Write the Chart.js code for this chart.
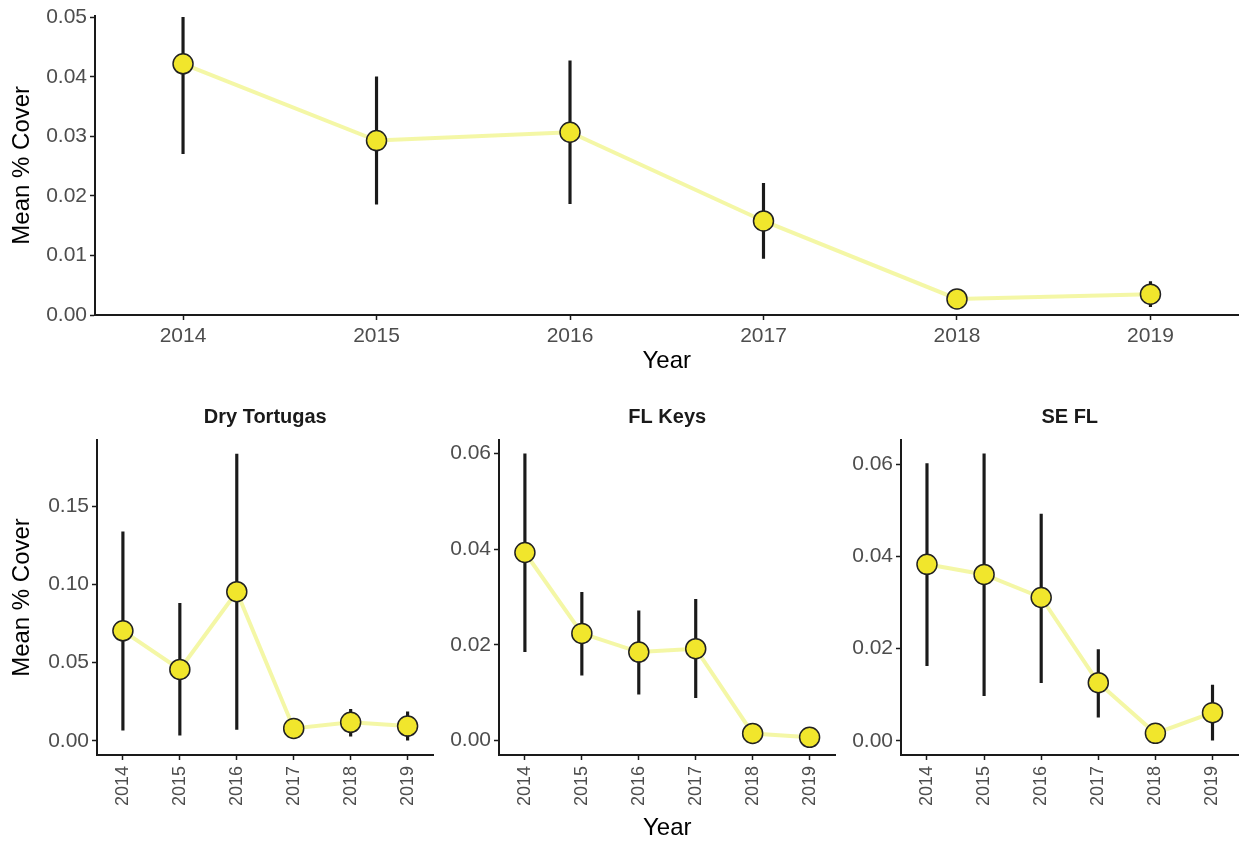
<!DOCTYPE html>
<html>
<head>
<meta charset="utf-8">
<script src="https://cdn.jsdelivr.net/npm/chart.js@4/dist/chart.umd.min.js"></script>
<style>
    html, body { margin: 0; padding: 0; background: #ffffff; overflow: hidden; }
    body { width: 1239px; height: 843px; position: relative; }
    .box { position: absolute; }
</style>
</head>
<body>

<div class="box" style="left:0;top:0;width:1250px;height:380px;"><canvas id="allChart"></canvas></div>
<div class="box" style="left:0;top:395px;width:445px;height:448px;"><canvas id="dtChart"></canvas></div>
<div class="box" style="left:440px;top:395px;width:407px;height:448px;"><canvas id="keysChart"></canvas></div>
<div class="box" style="left:840px;top:395px;width:410px;height:448px;"><canvas id="seChart"></canvas></div>

<script>

/* ==========================
   DATA
========================== */

const years = [2014, 2015, 2016, 2017, 2018, 2019];

const allMean = [0.0422, 0.0293, 0.0307, 0.0158, 0.0027, 0.0035];
const allLow  = [0.0271, 0.0186, 0.0187, 0.0095, 0.0012, 0.0014];
const allHigh = [0.0500, 0.0400, 0.0427, 0.0221, 0.0042, 0.0056];
const allTicks = [0.00, 0.01, 0.02, 0.03, 0.04, 0.05];

const dtMean = [0.0703, 0.0456, 0.0953, 0.0079, 0.0118, 0.0094];
const dtLow  = [0.0068, 0.0036, 0.0073, 0.0040, 0.0030, 0.0000];
const dtHigh = [0.1336, 0.0878, 0.1833, 0.0120, 0.0201, 0.0185];
const dtTicks = [0.00, 0.05, 0.10, 0.15];

const keysMean = [0.0393, 0.0224, 0.0185, 0.0192, 0.0015, 0.0007];
const keysLow  = [0.0186, 0.0137, 0.0097, 0.0090, 0.0005, 0.0002];
const keysHigh = [0.0599, 0.0310, 0.0271, 0.0295, 0.0025, 0.0012];
const keysTicks = [0.00, 0.02, 0.04, 0.06];

const seMean = [0.0383, 0.0361, 0.0311, 0.0126, 0.0016, 0.0061];
const seLow  = [0.0163, 0.0098, 0.0126, 0.0051, 0.0004, 0.0000];
const seHigh = [0.0602, 0.0623, 0.0492, 0.0198, 0.0030, 0.0121];
const seTicks = [0.00, 0.02, 0.04, 0.06];

/* ==========================
   SHARED STYLE
========================== */

Chart.defaults.font.family = "'Liberation Sans', Arial, sans-serif";
Chart.defaults.color = "#4d4d4d";

const LINE_COLOR = "rgba(242, 246, 150, 0.85)";
const POINT_COLOR = "#f1e62c";
const AXIS_COLOR = "#1a1a1a";

function buildChart(id, opts) {

    const canvas =
        document.getElementById(id);

    const lineData =
        years.map((y, i) => ({ x: y, y: opts.mean[i] }));

    // error bars as thin floating bars
    const barData =
        years.map((y, i) => ({ x: y, y: [opts.low[i], opts.high[i]] }));

    return new Chart(canvas, {

        data: {

            datasets: [

                {
                    type: "bar",
                    data: barData,
                    backgroundColor: AXIS_COLOR,
                    borderWidth: 0,
                    barThickness: 2.5,
                    order: 2
                },

                {
                    type: "line",
                    data: lineData,
                    borderColor: LINE_COLOR,
                    borderWidth: 4,
                    tension: 0,
                    pointRadius: 10,
                    pointBackgroundColor: POINT_COLOR,
                    pointBorderColor: "#222222",
                    pointBorderWidth: 1.5,
                    order: 1
                }

            ]
        },

        options: {

            responsive: true,
            maintainAspectRatio: false,
            animation: false,

            layout: {
                padding: opts.padding
            },

            plugins: {

                legend: { display: false },
                tooltip: { enabled: false },

                title: {
                    display: !!opts.title,
                    text: opts.title || "",
                    fullSize: false,
                    color: "#1a1a1a",
                    font: { size: 20, weight: "bold" },
                    padding: { top: 10, bottom: 11 }
                }

            },

            scales: {

                x: {
                    type: "linear",
                    offset: false,
                    min: 2013.545,
                    max: 2019.455,
                    afterBuildTicks: (s) => {
                        s.ticks = years.map(v => ({ value: v }));
                    },
                    afterFit: (s) => {
                        s.height = opts.xHeight;
                    },
                    grid: {
                        offset: false,
                        drawOnChartArea: false,
                        drawTicks: true,
                        tickLength: 5,
                        tickColor: AXIS_COLOR,
                        tickWidth: 1.5
                    },
                    border: {
                        display: true,
                        color: AXIS_COLOR,
                        width: 2
                    },
                    ticks: {
                        autoSkip: false,
                        minRotation: opts.rotate,
                        maxRotation: opts.rotate,
                        padding: opts.rotate ? 6 : 4,
                        font: { size: opts.rotate ? 18 : 21 },
                        callback: (v) => String(v)
                    },
                    title: {
                        display: !!opts.xTitle,
                        text: "Year",
                        color: "#000000",
                        font: { size: 24 },
                        padding: { top: 0, bottom: opts.xTitlePad }
                    }
                },

                y: {
                    type: "linear",
                    min: opts.yMin,
                    max: opts.yMax,
                    afterBuildTicks: (s) => {
                        s.ticks = opts.ticks.map(v => ({ value: v }));
                    },
                    afterFit: (s) => {
                        s.width = opts.yWidth;
                    },
                    grid: {
                        drawOnChartArea: false,
                        drawTicks: true,
                        tickLength: 5,
                        tickColor: AXIS_COLOR,
                        tickWidth: 1.5
                    },
                    border: {
                        display: true,
                        color: AXIS_COLOR,
                        width: 2
                    },
                    ticks: {
                        padding: 3,
                        font: { size: 21 },
                        callback: (v) => v.toFixed(2)
                    },
                    title: {
                        display: !!opts.yTitle,
                        text: "Mean % Cover",
                        color: "#000000",
                        font: { size: 24 },
                        padding: { top: 8, bottom: 0 }
                    }
                }

            }

        }

    });
}

/* ==========================
   CHARTS
========================== */

buildChart("allChart", {
    mean: allMean, low: allLow, high: allHigh, ticks: allTicks,
    yMin: 0, yMax: 0.0503,
    yWidth: 95, xHeight: 65, rotate: 0,
    yTitle: true, xTitle: true, xTitlePad: 4,
    padding: { top: 15, right: 0, bottom: 0, left: 0 }
});

buildChart("dtChart", {
    mean: dtMean, low: dtLow, high: dtHigh, ticks: dtTicks,
    yMin: -0.0091, yMax: 0.1923,
    yWidth: 97, xHeight: 88, rotate: 90,
    title: "Dry Tortugas",
    yTitle: true, xTitle: false, xTitlePad: 0,
    padding: { top: 0, right: 0, bottom: 0, left: 0 }
});

buildChart("keysChart", {
    mean: keysMean, low: keysLow, high: keysHigh, ticks: keysTicks,
    yMin: -0.0030, yMax: 0.0628,
    yWidth: 59, xHeight: 88, rotate: 90,
    title: "FL Keys",
    yTitle: false, xTitle: true, xTitlePad: 0,
    padding: { top: 0, right: 0, bottom: 0, left: 0 }
});

buildChart("seChart", {
    mean: seMean, low: seLow, high: seHigh, ticks: seTicks,
    yMin: -0.0031, yMax: 0.0653,
    yWidth: 61, xHeight: 88, rotate: 90,
    title: "SE FL",
    yTitle: false, xTitle: false, xTitlePad: 0,
    padding: { top: 0, right: 0, bottom: 0, left: 0 }
});

</script>
</body>
</html>
